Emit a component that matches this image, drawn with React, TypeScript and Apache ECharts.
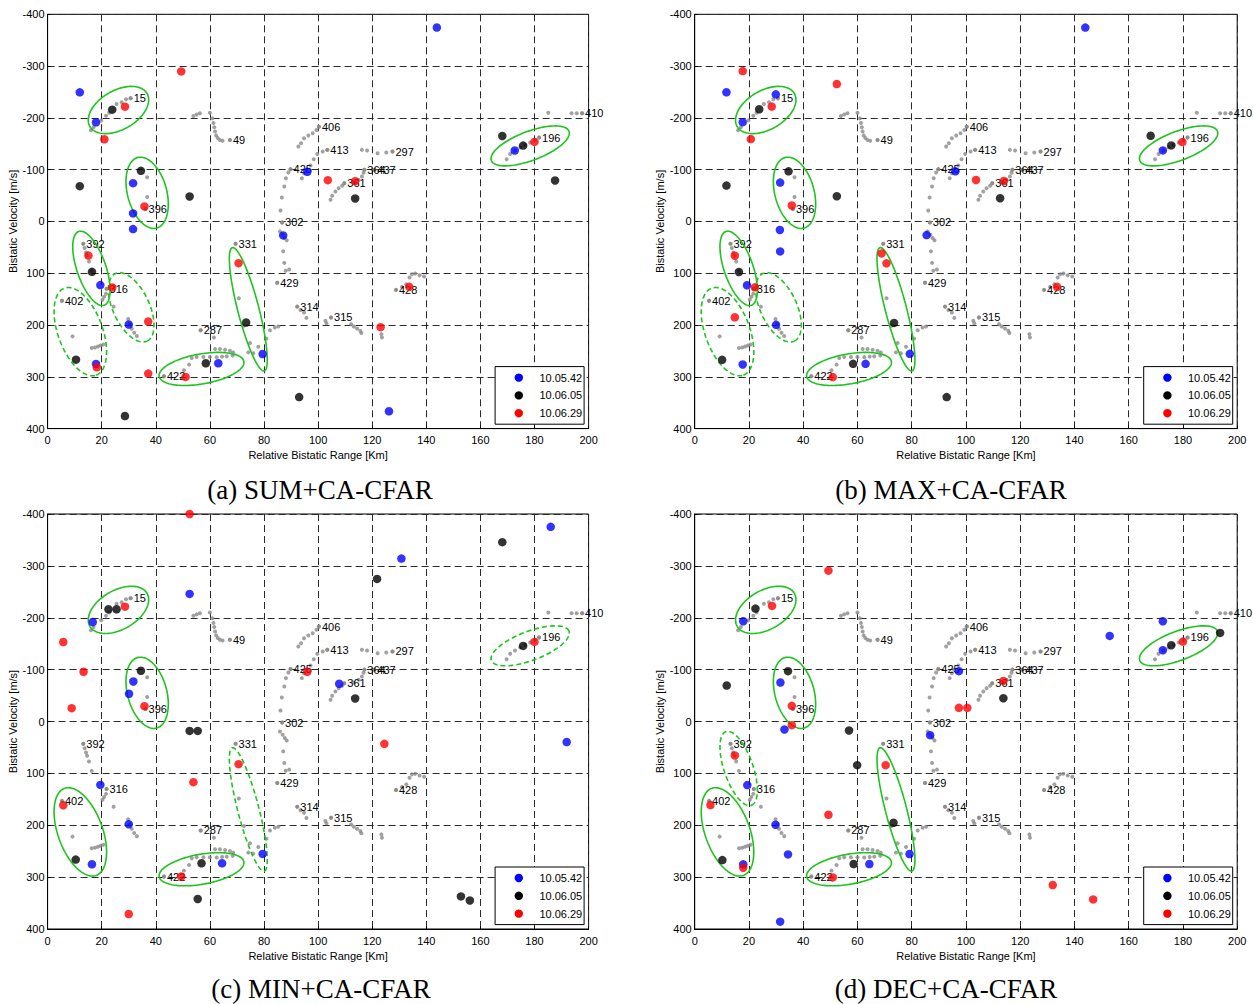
import React, { useEffect, useRef } from 'react';
import * as echarts from 'echarts';

// ---------- data ----------
const SERIES_NAMES = ['10.05.42', '10.06.05', '10.06.29'];
const SERIES_COLORS = ['#0000ff', '#000000', '#ff0000'];
const CAPTIONS = ['(a) SUM+CA-CFAR', '(b) MAX+CA-CFAR', '(c) MIN+CA-CFAR', '(d) DEC+CA-CFAR'];
const X_NAME = 'Relative Bistatic Range [Km]';
const Y_NAME = 'Bistatic Velocity [m/s]';
const X_MIN = 0, X_MAX = 200, X_STEP = 20;
const Y_MIN = -400, Y_MAX = 400, Y_STEP = 100;

// reference tracks (first point carries the label)
const TRACK_15 = [[30.7, -237.7], [29.0, -235.8], [27.4, -230.0], [25.5, -226.8], [22.8, -210.0], [21.6, -204.0], [19.8, -195.0], [17.0, -182.0], [16.0, -176.0]];
const TRACK_49 = [[67.4, -157.4], [64.7, -156.0], [63.7, -157.4], [62.9, -161.0], [62.3, -166.0], [61.9, -173.5], [61.6, -182.0], [61.3, -190.0], [60.9, -199.0], [60.0, -210.0], [56.3, -208.8], [55.1, -206.5], [53.9, -203.7]];
const TRACK_406 = [[100.3, -183.0], [99.4, -176.7], [98.0, -170.3], [96.4, -165.8], [94.8, -160.6], [93.7, -151.0], [92.7, -144.6]];
const TRACK_413 = [[103.4, -138.2], [101.7, -135.0], [99.7, -130.4], [98.4, -120.0], [97.2, -108.0], [95.7, -99.6], [94.8, -93.2], [94.0, -83.6]];
const TRACK_425 = [[89.8, -101.0], [89.0, -94.5], [88.1, -83.6], [87.5, -67.5], [86.6, -46.3], [86.1, -21.3]];
const TRACK_302 = [[86.7, 2.0], [85.9, 19.2], [86.9, 25.6], [87.7, 32.0], [88.4, 36.5]];
const TRACK_429 = [[84.9, 118.4], [89.3, 92.8], [88.0, 95.0], [87.5, 80.0], [87.1, 57.6]];
const TRACK_392 = [[13.2, 43.0], [13.7, 51.4], [14.2, 59.8], [14.6, 66.2], [15.3, 77.2], [16.3, 95.2]];
const TRACK_316 = [[21.8, 130.0], [21.6, 139.5], [20.9, 145.5], [20.3, 151.0], [24.4, 164.5], [29.8, 188.5], [30.4, 198.0], [31.1, 207.0], [32.0, 215.0], [33.0, 221.0]];
const TRACK_402 = [[5.3, 153.0], [9.2, 221.9], [16.3, 244.4], [17.5, 243.5], [18.6, 241.5], [19.6, 239.5], [20.6, 237.5]];
const TRACK_287 = [[56.6, 210.0], [61.5, 224.0], [61.9, 246.4], [63.7, 246.4], [65.6, 247.7], [67.4, 249.6], [68.6, 252.8]];
const TRACK_422 = [[43.0, 299.0], [50.4, 287.5], [52.3, 276.5], [53.3, 263.7], [55.1, 261.7], [57.6, 261.7], [60.0, 261.7], [62.5, 262.0], [64.5, 261.0], [66.2, 260.5], [68.4, 259.0]];
const TRACK_331 = [[69.5, 43.0], [70.7, 148.5], [72.6, 201.6], [74.8, 234.9], [74.2, 252.8], [76.0, 254.7], [77.9, 241.9], [80.9, 226.0], [82.2, 210.0], [84.0, 204.8], [85.3, 202.9]];
const TRACK_314 = [[92.3, 164.5], [93.5, 170.9], [94.8, 176.0], [95.7, 186.2]];
const TRACK_315 = [[104.8, 185.4], [102.7, 191.9], [103.1, 196.4], [112.2, 198.3], [113.2, 202.8], [114.4, 206.6], [115.6, 211.1], [116.0, 215.6], [123.4, 217.6], [123.6, 224.0]];
const TRACK_428 = [[128.8, 132.1], [131.0, 126.3], [132.6, 121.2], [133.8, 108.4], [134.7, 101.9], [135.9, 100.6], [137.5, 103.9], [139.2, 106.4]];
const TRACK_361 = [[109.7, -73.9], [108.9, -68.8], [107.6, -64.3], [106.4, -57.9], [105.2, -49.5], [104.6, -41.8]];
const TRACK_364 = [[117.1, -100.0], [116.8, -94.0], [116.2, -86.8], [115.0, -80.3], [113.2, -75.2]];
const TRACK_437 = [[120.8, -100.0]];
const TRACK_297 = [[127.5, -135.0], [125.2, -133.0], [122.0, -131.7], [118.1, -136.9], [116.2, -138.2]];
const TRACK_410 = [[197.6, -208.8], [195.6, -208.8], [193.7, -208.8], [185.1, -210.0]];
const TRACK_196 = [[181.7, -162.0], [180.2, -157.4], [178.4, -152.3], [176.5, -147.8], [174.7, -142.6], [172.8, -136.9], [171.0, -130.4], [169.7, -120.2]];
const TRACK_396 = [[36.2, -24.0], [36.8, -47.4], [36.8, -85.3]];

const TRACKS: [string, number[][]][] = [
  ['15', TRACK_15], ['49', TRACK_49], ['406', TRACK_406], ['413', TRACK_413], ['425', TRACK_425],
  ['302', TRACK_302], ['429', TRACK_429], ['392', TRACK_392], ['316', TRACK_316], ['402', TRACK_402],
  ['287', TRACK_287], ['422', TRACK_422], ['331', TRACK_331], ['314', TRACK_314], ['315', TRACK_315],
  ['428', TRACK_428], ['361', TRACK_361], ['364', TRACK_364], ['437', TRACK_437], ['297', TRACK_297],
  ['410', TRACK_410], ['196', TRACK_196], ['396', TRACK_396],
];

// detections, panel (a) SUM
const A_BLUE = [[11.9, -249.3], [17.9, -191.5], [31.6, -73.9], [31.6, -15.5], [31.6, 14.7], [96.0, -95.8], [87.1, 26.9], [19.5, 122.9], [30.0, 199.0], [17.9, 275.2], [63.1, 273.9], [79.5, 256.0], [126.2, 366.6], [143.9, -374.5], [172.7, -136.9]];
const A_BLACK = [[23.9, -215.9], [11.9, -68.1], [34.5, -97.7], [52.5, -48.2], [113.7, -44.4], [16.4, 97.3], [10.5, 266.9], [28.6, 375.7], [58.5, 273.9], [73.4, 195.2], [93.0, 339.2], [168.1, -165.1], [175.8, -146.5], [187.6, -79.1]];
const A_RED = [[28.6, -221.6], [21.0, -158.7], [49.4, -289.7], [35.8, -29.0], [103.6, -79.7], [113.7, -77.8], [15.1, 65.9], [23.9, 127.4], [37.2, 193.3], [18.2, 281.6], [37.2, 293.8], [51.0, 300.2], [70.6, 80.6], [133.7, 126.3], [123.1, 204.1], [180.0, -153.6]];
// panel (b) MAX
const B_BLUE = [[11.7, -249.4], [29.9, -245.5], [17.7, -191.7], [31.5, -75.0], [31.4, 16.5], [31.5, 57.8], [96.1, -96.8], [85.5, 26.3], [19.3, 123.3], [30.0, 199.7], [17.7, 276.2], [63.0, 274.9], [79.3, 255.6], [144.0, -374.4], [172.6, -137.2]];
const B_BLACK = [[23.8, -216.7], [11.7, -69.2], [34.6, -96.8], [52.4, -48.7], [112.6, -44.9], [16.3, 97.6], [10.1, 267.2], [58.4, 274.9], [73.5, 195.9], [92.9, 339.1], [168.1, -165.4], [175.7, -146.8]];
const B_RED = [[17.7, -290.4], [28.4, -221.8], [20.7, -159.0], [52.4, -265.4], [35.8, -30.8], [103.7, -80.1], [114.0, -78.2], [14.8, 66.2], [22.2, 127.2], [14.8, 185.0], [50.9, 300.6], [68.9, 61.7], [70.7, 80.9], [133.6, 126.3], [179.8, -153.2]];
// panel (c) MIN
const C_BLUE = [[52.5, -245.9], [16.7, -191.8], [31.7, -77.2], [30.1, -53.4], [107.8, -72.7], [130.8, -314.1], [186.0, -375.2], [191.9, 39.6], [19.5, 122.2], [30.0, 198.0], [16.4, 275.2], [64.5, 273.3], [79.5, 255.3]];
const C_BLACK = [[22.5, -216.3], [25.5, -216.3], [34.5, -97.8], [52.5, 18.1], [55.5, 18.1], [113.7, -44.4], [121.8, -274.9], [168.1, -345.7], [175.8, -145.7], [10.4, 266.2], [56.9, 273.3], [55.5, 342.1], [152.8, 337.2], [156.1, 345.0]];
const C_RED = [[52.5, -400.0], [28.6, -221.4], [5.8, -153.2], [13.3, -95.9], [8.9, -25.7], [35.8, -29.6], [96.0, -95.9], [180.0, -153.4], [53.9, 117.0], [70.6, 82.3], [5.8, 161.4], [49.4, 299.0], [30.0, 371.1], [124.5, 43.0]];
// panel (d) DEC
const D_BLUE = [[17.9, -193.3], [31.6, -75.1], [33.1, 15.4], [19.4, 122.6], [29.8, 199.0], [34.4, 256.2], [17.9, 275.4], [64.4, 274.8], [79.2, 255.5], [31.5, 385.9], [86.8, 26.3], [97.4, -97.0], [153.0, -165.0], [172.6, -193.3], [172.6, -137.4]];
const D_BLACK = [[22.4, -217.7], [11.8, -69.3], [34.4, -97.0], [56.9, 17.3], [59.9, 84.1], [10.2, 267.1], [58.6, 274.8], [73.3, 195.2], [113.8, -44.9], [175.7, -147.0], [193.7, -170.8]];
const D_RED = [[49.3, -290.8], [28.5, -222.8], [35.8, -30.2], [35.8, 7.1], [14.8, 65.5], [5.8, 161.2], [17.9, 281.9], [49.3, 179.8], [50.9, 300.5], [70.4, 84.1], [97.4, -26.3], [100.5, -26.3], [113.8, -78.3], [180.0, -154.1], [132.0, 315.2], [146.9, 342.9]];

const PANEL_POINTS = [
  [A_BLUE, A_BLACK, A_RED],
  [B_BLUE, B_BLACK, B_RED],
  [C_BLUE, C_BLACK, C_RED],
  [D_BLUE, D_BLACK, D_RED],
];

// highlight ellipses: [centre km, centre m/s, semi-axis px, semi-axis px, tilt deg]
const ELLIPSE_15 = [26.2, -215.2, 33, 19.5, 30];
const ELLIPSE_396 = [36.8, -55.3, 36.5, 19.6, -75];
const ELLIPSE_392 = [16.2, 90.6, 39, 14.5, -71];
const ELLIPSE_402 = [12.1, 212.8, 46.3, 22.3, -70];
const ELLIPSE_316 = [30.9, 165.8, 37.3, 18.2, -65];
const ELLIPSE_422 = [56.9, 284.8, 43, 15, 10];
const ELLIPSE_331 = [74.2, 169.6, 63.7, 10.6, -75.5];
const ELLIPSE_196 = [178.4, -145.9, 41.5, 14.5, 20.7];

// [ellipse, dashed?]
const PANEL_ELLIPSES: [number[], number][][] = [
  [[ELLIPSE_15, 0], [ELLIPSE_396, 0], [ELLIPSE_392, 0], [ELLIPSE_402, 1], [ELLIPSE_316, 1], [ELLIPSE_422, 0], [ELLIPSE_331, 0], [ELLIPSE_196, 0]],
  [[ELLIPSE_15, 0], [ELLIPSE_396, 0], [ELLIPSE_392, 0], [ELLIPSE_402, 1], [ELLIPSE_316, 1], [ELLIPSE_422, 0], [ELLIPSE_331, 0], [ELLIPSE_196, 0]],
  [[ELLIPSE_15, 0], [ELLIPSE_396, 0], [ELLIPSE_402, 0], [ELLIPSE_331, 1], [ELLIPSE_422, 0], [ELLIPSE_196, 1]],
  [[ELLIPSE_15, 0], [ELLIPSE_396, 0], [ELLIPSE_392, 1], [ELLIPSE_402, 0], [ELLIPSE_422, 0], [ELLIPSE_331, 0], [ELLIPSE_196, 0]],
];

// ---------- layout ----------
const PANELS = [
  { left: 47.6, top: 14.3, width: 541, height: 414.3 },
  { left: 694.7, top: 14.3, width: 542.5, height: 414.3 },
  { left: 47.6, top: 514, width: 541, height: 415 },
  { left: 694.7, top: 514, width: 542.5, height: 415 },
];
const CAPTION_POS = [[320, 490], [951, 490], [321, 989], [946, 989]];
const FONT = '"Liberation Sans", Arial, Helvetica, sans-serif';
const SERIF = '"Liberation Serif", "Times New Roman", serif';
const GREEN = '#1ec41e';

function buildOption() {
  const grid = PANELS.map((p) => ({
    left: p.left, top: p.top, width: p.width, height: p.height,
    show: true, borderColor: '#000', borderWidth: 1, backgroundColor: 'transparent',
  }));
  const splitLine = { show: true, lineStyle: { color: '#2a2a2a', width: 1, type: [7, 4] } };
  const xAxis = PANELS.map((_, i) => ({
    type: 'value', gridIndex: i, min: X_MIN, max: X_MAX, interval: X_STEP,
    name: X_NAME, nameLocation: 'middle', nameGap: 21,
    nameTextStyle: { fontSize: 11, color: '#000', fontFamily: FONT },
    axisLine: { show: true, onZero: false, lineStyle: { color: '#000', width: 1 } },
    axisTick: { show: true, inside: true, length: 3, lineStyle: { color: '#000' } },
    axisLabel: { fontSize: 11, color: '#000', fontFamily: FONT, margin: 6 },
    splitLine,
  }));
  const yAxis = PANELS.map((_, i) => ({
    type: 'value', gridIndex: i, min: Y_MIN, max: Y_MAX, interval: Y_STEP, inverse: true,
    name: Y_NAME, nameLocation: 'middle', nameGap: 28,
    nameTextStyle: { fontSize: 11, color: '#000', fontFamily: FONT },
    axisLine: { show: true, onZero: false, lineStyle: { color: '#000', width: 1 } },
    axisTick: { show: true, inside: true, length: 3, lineStyle: { color: '#000' } },
    axisLabel: { fontSize: 11, color: '#000', fontFamily: FONT, margin: 3 },
    splitLine,
  }));

  const series: any[] = [];
  const allTrackPts = TRACKS.reduce((acc: number[][], t) => acc.concat(t[1]), []);
  PANELS.forEach((_, i) => {
    series.push({
      type: 'scatter', xAxisIndex: i, yAxisIndex: i, silent: true, z: 2,
      data: allTrackPts, symbolSize: 4, itemStyle: { color: '#8a8a8a' },
    });
    series.push({
      type: 'scatter', xAxisIndex: i, yAxisIndex: i, silent: true, z: 3,
      data: TRACKS.map((t) => ({ name: t[0], value: t[1][0] })),
      symbolSize: 4, itemStyle: { color: '#8a8a8a' },
      labelLayout: { hideOverlap: false },
      label: {
        show: true, position: 'right', distance: 1, formatter: '{b}',
        fontSize: 11, color: '#000', fontFamily: FONT, textBorderWidth: 0, opacity: 1,
      },
    });
    series.push({
      type: 'custom', xAxisIndex: i, yAxisIndex: i, silent: true, z: 4, clip: false,
      data: PANEL_ELLIPSES[i].map((e) => [...e[0], e[1]]),
      encode: { x: 0, y: 1 },
      renderItem: (params: any, api: any) => {
        const c = api.coord([api.value(0), api.value(1)]);
        const rx = api.value(2), ry = api.value(3);
        const th = (api.value(4) * Math.PI) / 180;
        const dashed = api.value(5) === 1;
        const pts: number[][] = [];
        const N = 120;
        for (let k = 0; k < N; k++) {
          const t = (k / N) * Math.PI * 2;
          const X = rx * Math.cos(t) * Math.cos(th) - ry * Math.sin(t) * Math.sin(th);
          const Y = rx * Math.cos(t) * Math.sin(th) + ry * Math.sin(t) * Math.cos(th);
          pts.push([c[0] + X, c[1] - Y]);
        }
        return {
          type: 'polygon', shape: { points: pts },
          style: { fill: 'none', stroke: GREEN, lineWidth: 1.6, lineDash: dashed ? [5, 3] : null },
        };
      },
    });
    SERIES_NAMES.forEach((name, k) => {
      series.push({
        type: 'scatter', name, xAxisIndex: i, yAxisIndex: i, z: 5 + k,
        data: PANEL_POINTS[i][k], symbolSize: 8.5,
        itemStyle: { color: SERIES_COLORS[k] },
      });
    });
  });

  const graphic: any[] = [];
  CAPTIONS.forEach((cap, i) => {
    graphic.push({
      type: 'text', x: CAPTION_POS[i][0], y: CAPTION_POS[i][1], z: 100,
      style: {
        text: cap, fill: '#000', fontSize: 27, fontFamily: SERIF,
        textAlign: 'center', align: 'center', textVerticalAlign: 'middle', verticalAlign: 'middle',
      },
    });
  });
  PANELS.forEach((p) => {
    const bx = p.left + p.width - 93.5;
    const by = p.top + p.height - 62;
    graphic.push({
      type: 'rect', z: 100,
      shape: { x: bx, y: by, width: 89, height: 57.6 },
      style: { fill: '#fff', stroke: '#000', lineWidth: 1 },
    });
    SERIES_NAMES.forEach((name, k) => {
      const cy = by + 11 + k * 17.8;
      graphic.push({
        type: 'circle', z: 101,
        shape: { cx: bx + 23.7, cy, r: 4.2 },
        style: { fill: SERIES_COLORS[k] },
      });
      graphic.push({
        type: 'text', z: 101, x: bx + 44.3, y: cy,
        style: {
          text: name, fill: '#000', fontSize: 11, fontFamily: FONT,
          textAlign: 'left', align: 'left', textVerticalAlign: 'middle', verticalAlign: 'middle',
        },
      });
    });
  });

  return {
    animation: false,
    backgroundColor: '#fff',
    grid, xAxis, yAxis, series, graphic,
  };
}

export default function App() {
  const ref = useRef<HTMLDivElement>(null);
  useEffect(() => {
    if (!ref.current) return;
    const chart = echarts.init(ref.current, null, { renderer: 'svg' });
    chart.setOption(buildOption() as any);
    return () => chart.dispose();
  }, []);
  return (
    <div
      ref={ref}
      style={{ position: 'absolute', left: 0, top: 0, width: 1253, height: 1004, background: '#fff' }}
    />
  );
}
